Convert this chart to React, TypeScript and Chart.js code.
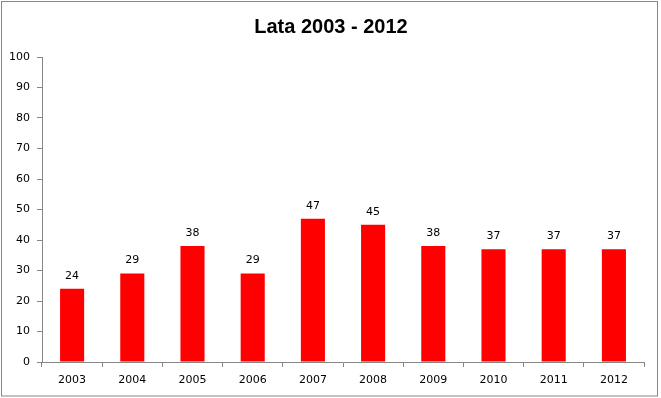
import React, { useEffect, useRef } from "react";
import { Chart, registerables } from "chart.js";

Chart.register(...registerables);

const TITLE = "Lata 2003 - 2012";
const YEARS = ["2003", "2004", "2005", "2006", "2007", "2008", "2009", "2010", "2011", "2012"];
const VALUES = [24, 29, 38, 29, 47, 45, 38, 37, 37, 37];
const Y_MIN = 0;
const Y_MAX = 100;
const Y_STEP = 10;

const AXIS_COLOR = "#868686";
const BAR_COLOR = "#FF0000";
const TICK_FONT = { family: "'DejaVu Sans', sans-serif", size: 11 };

const framePlugin = {
  id: "frameAndTitle",
  beforeDraw(chart: any) {
    const ctx = chart.ctx;
    ctx.save();
    ctx.fillStyle = "#ffffff";
    ctx.fillRect(0, 0, chart.width, chart.height);
    ctx.strokeStyle = AXIS_COLOR;
    ctx.lineWidth = 1;
    ctx.strokeRect(1.5, 1.5, 656, 394.5);
    ctx.fillStyle = "#000000";
    ctx.font = "bold 20px 'Liberation Sans', sans-serif";
    ctx.textAlign = "center";
    ctx.textBaseline = "middle";
    ctx.fillText(TITLE, 331, 27);
    ctx.restore();
  },
  afterDatasetsDraw(chart: any) {
    const ctx = chart.ctx;
    const meta = chart.getDatasetMeta(0);
    ctx.save();
    ctx.fillStyle = "#000000";
    ctx.font = "11px 'DejaVu Sans', sans-serif";
    ctx.textAlign = "center";
    ctx.textBaseline = "middle";
    meta.data.forEach((bar: any, i: number) => {
      ctx.fillText(String(VALUES[i]), bar.x, bar.y - 13);
    });
    ctx.restore();
  },
};

export default function App() {
  const ref = useRef<HTMLCanvasElement | null>(null);

  useEffect(() => {
    document.body.style.margin = "0";
    if (!ref.current) return;
    const chart = new Chart(ref.current, {
      type: "bar",
      data: {
        labels: YEARS,
        datasets: [
          {
            data: VALUES,
            backgroundColor: BAR_COLOR,
            borderWidth: 0,
            barPercentage: 0.4,
            categoryPercentage: 1,
          },
        ],
      },
      options: {
        animation: false,
        responsive: false,
        devicePixelRatio: 1,
        layout: { padding: { top: 57, right: 17, left: 0, bottom: 0 } },
        plugins: {
          legend: { display: false },
          title: { display: false },
          tooltip: { enabled: false },
        },
        scales: {
          x: {
            grid: {
              display: true,
              drawOnChartArea: false,
              drawTicks: true,
              tickLength: 5,
              color: AXIS_COLOR,
              offset: true,
            },
            border: { display: true, color: AXIS_COLOR },
            ticks: { color: "#000000", font: TICK_FONT, padding: 7, maxRotation: 0 },
            afterFit(scale: any) {
              scale.height = 36;
            },
          },
          y: {
            min: Y_MIN,
            max: Y_MAX,
            grid: {
              display: true,
              drawOnChartArea: false,
              drawTicks: true,
              tickLength: 5,
              color: AXIS_COLOR,
            },
            border: { display: true, color: AXIS_COLOR },
            ticks: { stepSize: Y_STEP, color: "#000000", font: TICK_FONT, padding: 7 },
            afterFit(scale: any) {
              scale.width = 42;
            },
          },
        },
      },
      plugins: [framePlugin],
    });
    return () => chart.destroy();
  }, []);

  return (
    <div style={{ width: 661, height: 398 }}>
      <canvas ref={ref} width={661} height={398} style={{ display: "block" }} />
    </div>
  );
}
